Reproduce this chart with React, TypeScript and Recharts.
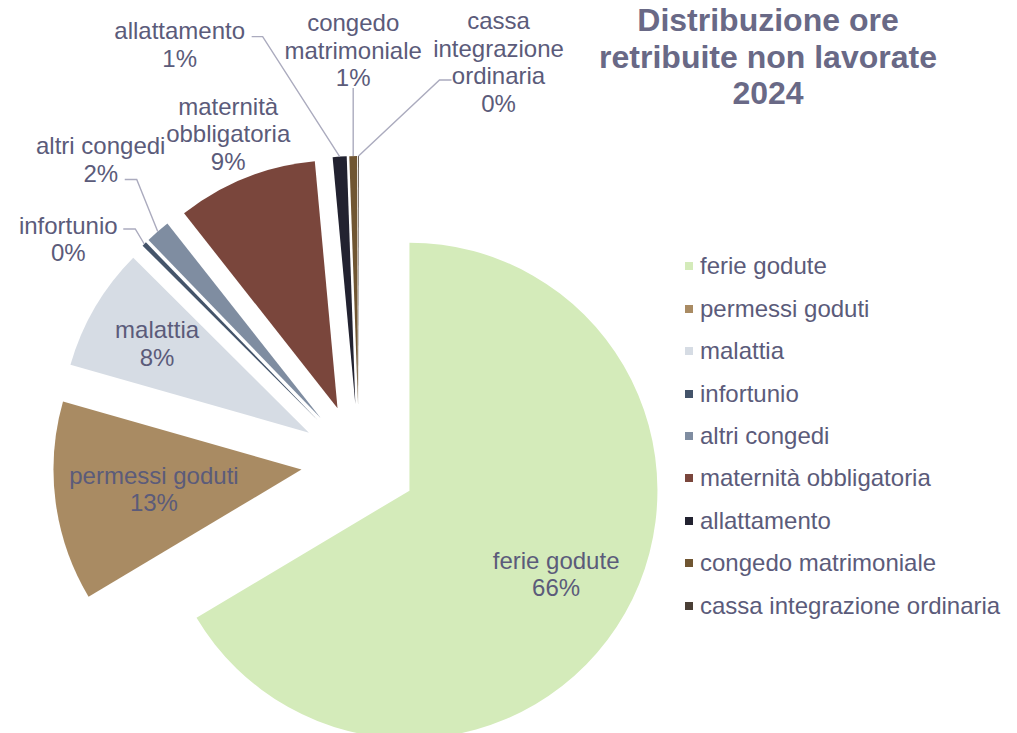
import React from "react";
import { Legend, Pie, PieChart, Sector } from "recharts";

// Distribuzione ore retribuite non lavorate 2024 — torta esplosa

const CATEGORIES = [
  "ferie godute",
  "permessi goduti",
  "malattia",
  "infortunio",
  "altri congedi",
  "maternità obbligatoria",
  "allattamento",
  "congedo matrimoniale",
  "cassa integrazione ordinaria",
];
const VALUES = [66.0, 12.9, 8.0, 0.3, 1.6, 9.1, 0.9, 0.5, 0.05];
const COLORS = [
  "#D4EBBA",
  "#A98B63",
  "#D6DCE4",
  "#44546A",
  "#7F8DA1",
  "#7A463C",
  "#222230",
  "#705632",
  "#4A3F36",
];

const data = CATEGORIES.map((name, i) => ({ name, value: VALUES[i] }));

const RAD = Math.PI / 180;
const EXPLODE = 58;
const FONT = '"Liberation Sans", Arial, sans-serif';
const TEXT_COLOR = "#5B5B7A";
const LEADER_COLOR = "#ABABBE";
const LINE_H = 27.5;

type LabelLayout =
  | { kind: "inside"; r: number; wrap?: boolean }
  | {
      kind: "outside";
      elbow: [number, number];
      end: [number, number];
      text: [number, number];
      wrap?: boolean;
    };

// posizione etichette (offset dalla punta esterna della fetta)
const LABEL_LAYOUT: Record<string, LabelLayout> = {
  "ferie godute": { kind: "inside", r: 0.68 },
  "permessi goduti": { kind: "inside", r: 0.6 },
  malattia: { kind: "inside", r: 0.71 },
  infortunio: { kind: "outside", elbow: [-9, -15], end: [-21, -15], text: [-76, -5] },
  "altri congedi": { kind: "outside", elbow: [-21, -52], end: [-33, -52], text: [-57, -72] },
  "maternità obbligatoria": { kind: "inside", r: 1.19, wrap: true },
  allattamento: { kind: "outside", elbow: [-77, -120], end: [-88, -120], text: [-160, -112] },
  "congedo matrimoniale": { kind: "outside", elbow: [0, -68], end: [0, -68], text: [0, -106], wrap: true },
  "cassa integrazione ordinaria": {
    kind: "outside",
    elbow: [81, -76],
    end: [93, -76],
    text: [140, -94],
    wrap: true,
  },
};

function renderSlice(props: any) {
  const { cx, cy, innerRadius, outerRadius, startAngle, endAngle, midAngle, percent, index } = props;
  const name = CATEGORIES[index];
  const ux = Math.cos(-midAngle * RAD);
  const uy = Math.sin(-midAngle * RAD);
  const ex = cx + EXPLODE * ux;
  const ey = cy + EXPLODE * uy;
  const layout = LABEL_LAYOUT[name];
  const lines = [...(layout.wrap ? name.split(" ") : [name]), `${Math.round(percent * 100)}%`];

  let tx = 0;
  let ty = 0;
  let leader: React.ReactNode = null;
  if (layout.kind === "inside") {
    tx = ex + ux * outerRadius * layout.r;
    ty = ey + uy * outerRadius * layout.r;
  } else {
    const px = ex + ux * outerRadius;
    const py = ey + uy * outerRadius;
    const pts = [
      [px, py],
      [px + layout.elbow[0], py + layout.elbow[1]],
      [px + layout.end[0], py + layout.end[1]],
    ]
      .map((p) => p.join(","))
      .join(" ");
    leader = <polyline points={pts} fill="none" stroke={LEADER_COLOR} strokeWidth={1.4} />;
    tx = px + layout.text[0];
    ty = py + layout.text[1];
  }

  return (
    <g key={`slice-${index}`}>
      <Sector
        cx={ex}
        cy={ey}
        innerRadius={innerRadius}
        outerRadius={outerRadius}
        startAngle={startAngle}
        endAngle={endAngle}
        fill={COLORS[index]}
        stroke="none"
      />
      {leader}
      <text textAnchor="middle" fontSize={24} fill={TEXT_COLOR} fontFamily={FONT}>
        {lines.map((l, i) => (
          <tspan key={i} x={tx} y={ty + (i - (lines.length - 1) / 2) * LINE_H + 8.5}>
            {l}
          </tspan>
        ))}
      </text>
    </g>
  );
}

function renderLegend(props: any) {
  const payload = [...(props.payload ?? [])].sort(
    (a: any, b: any) => CATEGORIES.indexOf(a.value) - CATEGORIES.indexOf(b.value)
  );
  return (
    <div style={{ fontFamily: FONT, fontSize: 24, color: TEXT_COLOR }}>
      {payload.map((item: any) => (
        <div
          key={item.value}
          style={{ display: "flex", alignItems: "center", height: 42.45, whiteSpace: "nowrap" }}
        >
          <span
            style={{
              display: "inline-block",
              width: 8,
              height: 8,
              background: COLORS[CATEGORIES.indexOf(item.value)],
              marginRight: 7,
            }}
          />
          <span>{item.value}</span>
        </div>
      ))}
    </div>
  );
}

export default function App() {
  return (
    <div
      style={{
        position: "absolute",
        left: 0,
        top: 0,
        width: 1017,
        height: 733,
        background: "#fff",
        overflow: "hidden",
      }}
    >
      <PieChart width={1017} height={733} margin={{ top: 0, right: 0, bottom: 0, left: 0 }}>
        <Pie
          data={data}
          dataKey="value"
          nameKey="name"
          cx={359}
          cy={462}
          innerRadius={0}
          outerRadius={248}
          startAngle={90}
          endAngle={-270}
          fill="transparent"
          stroke="none"
          label={renderSlice}
          labelLine={false}
          isAnimationActive={false}
        />
        <Legend
          layout="vertical"
          align="center"
          verticalAlign="middle"
          content={renderLegend}
          wrapperStyle={{ left: 685, top: 245, width: 330 }}
        />
      </PieChart>
      <div
        style={{
          position: "absolute",
          left: 568,
          top: 2,
          width: 400,
          textAlign: "center",
          fontFamily: FONT,
          fontWeight: "bold",
          fontSize: 32,
          lineHeight: "36.5px",
          color: "#696986",
        }}
      >
        Distribuzione ore
        <br />
        retribuite non lavorate
        <br />
        2024
      </div>
    </div>
  );
}
